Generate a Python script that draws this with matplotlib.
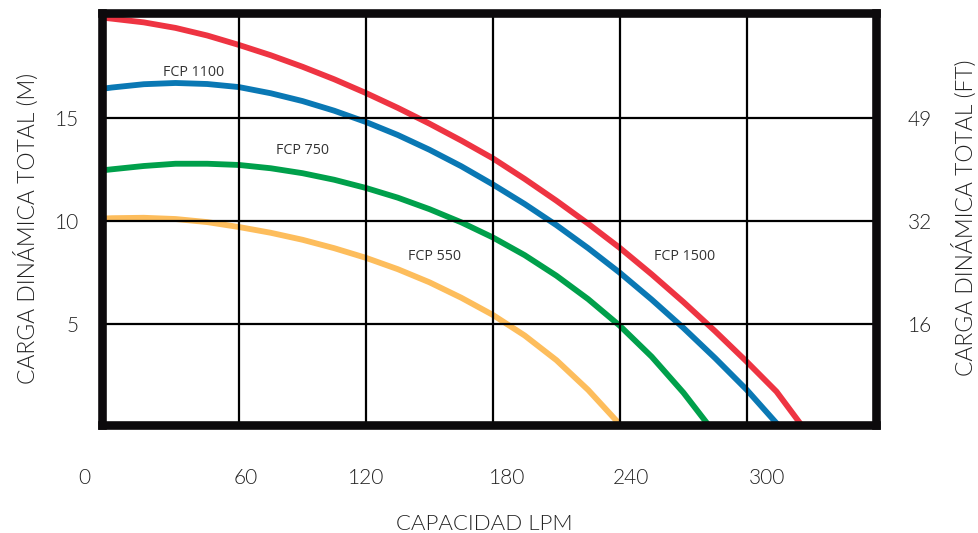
import matplotlib
matplotlib.use("Agg")
import matplotlib.pyplot as plt

# pump curves (flow in LPM, head in m)
fcp1500_q = [-4.5, 0, 15, 30, 45, 60, 75, 90, 105, 120, 135, 150, 165, 180,
             195, 210, 225, 240, 255, 270, 285, 300, 314, 327]
fcp1500_h = [19.90, 19.85, 19.67, 19.40, 19.03, 18.57, 18.07, 17.51, 16.90, 16.23,
             15.51, 14.74, 13.92, 13.05, 12.05, 10.99, 9.87, 8.69, 7.41, 6.06,
             4.64, 3.15, 1.70, -0.10]

fcp1100_q = [-4.5, 0, 15, 30, 45, 60, 75, 90, 105, 120, 135, 150, 165, 180,
             195, 210, 225, 240, 255, 270, 285, 300, 316]
fcp1100_h = [16.44, 16.50, 16.66, 16.72, 16.67, 16.52, 16.22, 15.84, 15.37, 14.82,
             14.19, 13.47, 12.67, 11.78, 10.83, 9.80, 8.68, 7.48, 6.18, 4.80,
             3.33, 1.78, -0.07]

fcp750_q = [-4.5, 0, 15, 30, 45, 60, 75, 90, 105, 120, 135, 150, 165, 180,
            195, 210, 225, 240, 255, 270, 283.5]
fcp750_h = [12.47, 12.52, 12.68, 12.79, 12.79, 12.73, 12.57, 12.33, 12.01, 11.61,
            11.14, 10.58, 9.94, 9.20, 8.34, 7.34, 6.20, 4.90, 3.40, 1.65, -0.15]

fcp550_q = [-4.5, 0, 15, 30, 45, 60, 75, 90, 105, 120, 135, 150, 165, 180,
            195, 210, 225, 240, 241]
fcp550_h = [10.12, 10.14, 10.16, 10.10, 9.95, 9.71, 9.43, 9.09, 8.68, 8.21,
            7.66, 7.02, 6.27, 5.43, 4.43, 3.23, 1.78, 0.10, -0.10]

x_ticks = [0, 60, 120, 180, 240, 300]
y_ticks = [5, 10, 15]
y_labels_ft = ["16", "32", "49"]

series = [
    ("FCP 1500", fcp1500_q, fcp1500_h, "#ee3442", (685, 257)),
    ("FCP 1100", fcp1100_q, fcp1100_h, "#0a78b4", (194, 73)),
    ("FCP 750", fcp750_q, fcp750_h, "#00a04b", (302, 151)),
    ("FCP 550", fcp550_q, fcp550_h, "#fdbd5c", (435, 256)),
]

# x tick label nudges in pixels (labels are not centred on the grid in the original)
x_label_dx = [-28, 7, 0, 14, 11, 20]

TXT = dict(family="Lato", fontweight=300, color="#222222")

W, H = 979, 533
fig = plt.figure(figsize=(W / 100, H / 100), dpi=100)
ax = fig.add_axes([102.5 / W, 1 - 424.5 / H, (876 - 102.5) / W, (424.5 - 12.5) / H])

for name, q, h, color, _ in series:
    ax.plot(q, h, color=color, lw=4.2, solid_capstyle="butt",
            solid_joinstyle="round", zorder=2)

ax.set_xlim(-4.5, 361)
ax.set_ylim(0.1, 20.15)

ax.set_xticks(x_ticks[1:])
ax.set_yticks(y_ticks)
ax.set_xticklabels([])
ax.set_yticklabels([str(v) for v in y_ticks], fontsize=15, **TXT)
ax.tick_params(axis="both", length=0)
ax.tick_params(axis="y", pad=17)
ax.set_axisbelow(False)
ax.grid(True, color="black", lw=1.6, zorder=2.5)

for sp in ax.spines.values():
    sp.set_linewidth(6.2)
    sp.set_color("#0c0a0c")
    sp.set_zorder(3)

ax2 = ax.twinx()
ax2.set_ylim(ax.get_ylim())
ax2.set_yticks(y_ticks)
ax2.set_yticklabels(y_labels_ft, fontsize=15, **TXT)
ax2.tick_params(axis="y", length=0, pad=23)
for sp in ax2.spines.values():
    sp.set_visible(False)

for v, dx in zip(x_ticks, x_label_dx):
    ax.annotate(str(v), xy=(v, 0), xycoords=("data", "axes fraction"),
                xytext=(dx, -53), textcoords="offset pixels",
                ha="center", va="center", fontsize=15, **TXT)

for name, q, h, color, (px, py) in series:
    fig.text(px / W, 1 - py / H, name, ha="center", va="center",
             fontsize=10.3, family="Open Sans", color="#333333")

fig.text(484 / W, 1 - 524 / H, "CAPACIDAD LPM", ha="center", va="center",
         fontsize=16, **TXT)
fig.text(26 / W, 1 - 228 / H, "CARGA DINÁMICA TOTAL (M)", ha="center", va="center",
         rotation=90, fontsize=16.5, **TXT)
fig.text(964 / W, 1 - 218 / H, "CARGA DINÁMICA TOTAL (FT)", ha="center", va="center",
         rotation=90, fontsize=16.5, **TXT)

fig.savefig("out.png", dpi=100)
